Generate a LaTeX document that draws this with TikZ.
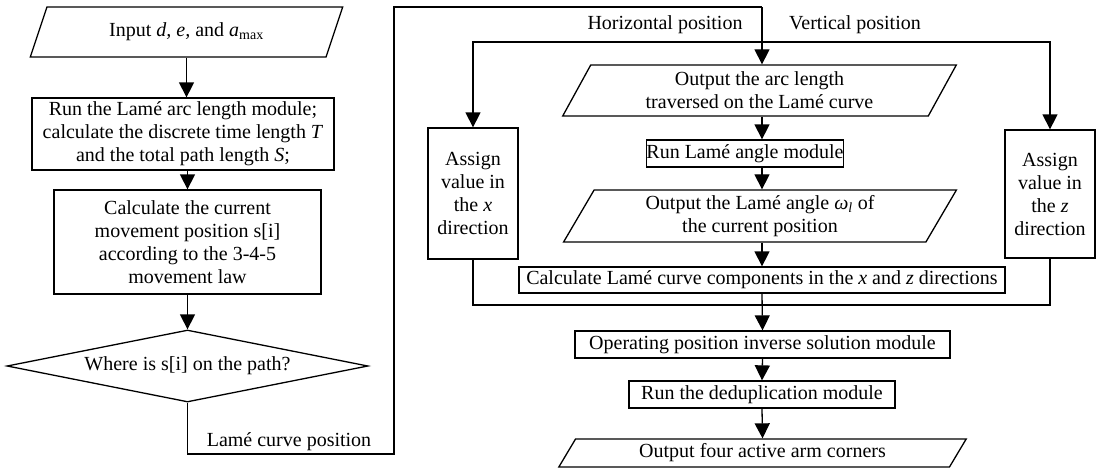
\documentclass[tikz,border=0pt]{standalone}
\usepackage{fontspec}
\setmainfont{Liberation Serif}
\usetikzlibrary{shapes.geometric,arrows.meta}

\begin{document}
\begin{tikzpicture}[x=1pt,y=-1pt,
    every node/.style={font=\fontsize{20}{23}\selectfont, inner sep=0pt, align=center},
    box/.style={draw, line width=1.3pt, rectangle},
    io/.style={draw, line width=1.3pt, trapezium, trapezium left angle=63, trapezium right angle=117, trapezium stretches=true},
    decision/.style={draw, line width=1.3pt, diamond, aspect=5},
    line/.style={line width=1.3pt},
    arr/.style={line width=1.3pt, -{Triangle[length=15pt,width=15pt]}}]
    \useasboundingbox (0,0) rectangle (1100,469);

    % left column
    \node[io, minimum width=313pt, minimum height=50pt] (inp) at (186.5,32) {Input \textit{d, e,} and \textit{a}\textsubscript{max}};
    \node[box, minimum width=302pt, minimum height=72pt] (arclen) at (183,134) {Run the Lamé arc length module;\\calculate the discrete time length \textit{T}\\and the total path length \textit{S};};
    \node[box, minimum width=267pt, minimum height=104pt] (curpos) at (187.5,242) {Calculate the current\\movement position s[i]\\according to the 3-4-5\\movement law};
    \node[decision, minimum width=361pt, minimum height=72pt] (where) at (187.5,366) {Where is s[i] on the path?};

    % right column
    \node[io, minimum width=395pt, minimum height=51pt] (outarc) at (759.5,90.5) {Output the arc length\\traversed on the Lamé curve};
    \node[box, minimum width=184pt, minimum height=27pt] (angmod) at (745,153.5) {Run Lamé angle module};
    \node[io, minimum width=394pt, minimum height=52pt] (outang) at (760,216) {Output the Lamé angle \textit{ω}\textsubscript{\textit{l}} of\\the current position};
    \node[box, minimum width=486pt, minimum height=26pt] (comp) at (762,280) {Calculate Lamé curve components in the \textit{x} and \textit{z} directions};
    \node[box, minimum width=90pt, minimum height=131pt] (asx) at (473,193.5) {Assign\\value in\\the \textit{x}\\direction};
    \node[box, minimum width=90pt, minimum height=128pt] (asz) at (1050,194) {Assign\\value in\\the \textit{z}\\direction};
    \node[box, minimum width=375pt, minimum height=27pt] (inv) at (762.5,344.5) {Operating position inverse solution module};
    \node[box, minimum width=266pt, minimum height=27pt] (dedup) at (762,394.5) {Run the deduplication module};
    \node[io, trapezium left angle=59, trapezium right angle=121, minimum width=409pt, minimum height=28pt] (outfour) at (762.5,453) {Output four active arm corners};

    % helper points
    \coordinate (low) at (394,454);
    \coordinate (top) at (394,7);
    \coordinate (split) at (762,42);
    \coordinate (join) at (762,305);

    % connectors
    \draw[arr] (inp.south) -- (inp.south |- arclen.north);
    \draw[arr] (curpos.north |- arclen.south) -- (curpos.north);
    \draw[arr] (curpos.south) -- (where.north);
    \draw[line] (where.south) -- (where.south |- low) -- (low) -- (top) -- (top -| split);
    \draw[arr] (top -| split) -- (split |- outarc.north);
    \draw[arr] (split) -| (asx.north);
    \draw[arr] (split) -| (asz.north);
    \draw[arr] (split |- outarc.south) -- (split |- angmod.north);
    \draw[arr] (split |- angmod.south) -- (split |- outang.north);
    \draw[arr] (split |- outang.south) -- (comp.north);
    \draw[line] (asx.south) |- (join) -| (asz.south);
    \draw[arr] (comp.south) -- (inv.north);
    \draw[arr] (inv.south) -- (dedup.north);
    \draw[arr] (dedup.south) -- (outfour.north);

    % labels
    \node (lcp) at (289,442) {Lamé curve position};
    \node (hor) at (665,25) {Horizontal position};
    \node (ver) at (855,25) {Vertical position};
\end{tikzpicture}
\end{document}
